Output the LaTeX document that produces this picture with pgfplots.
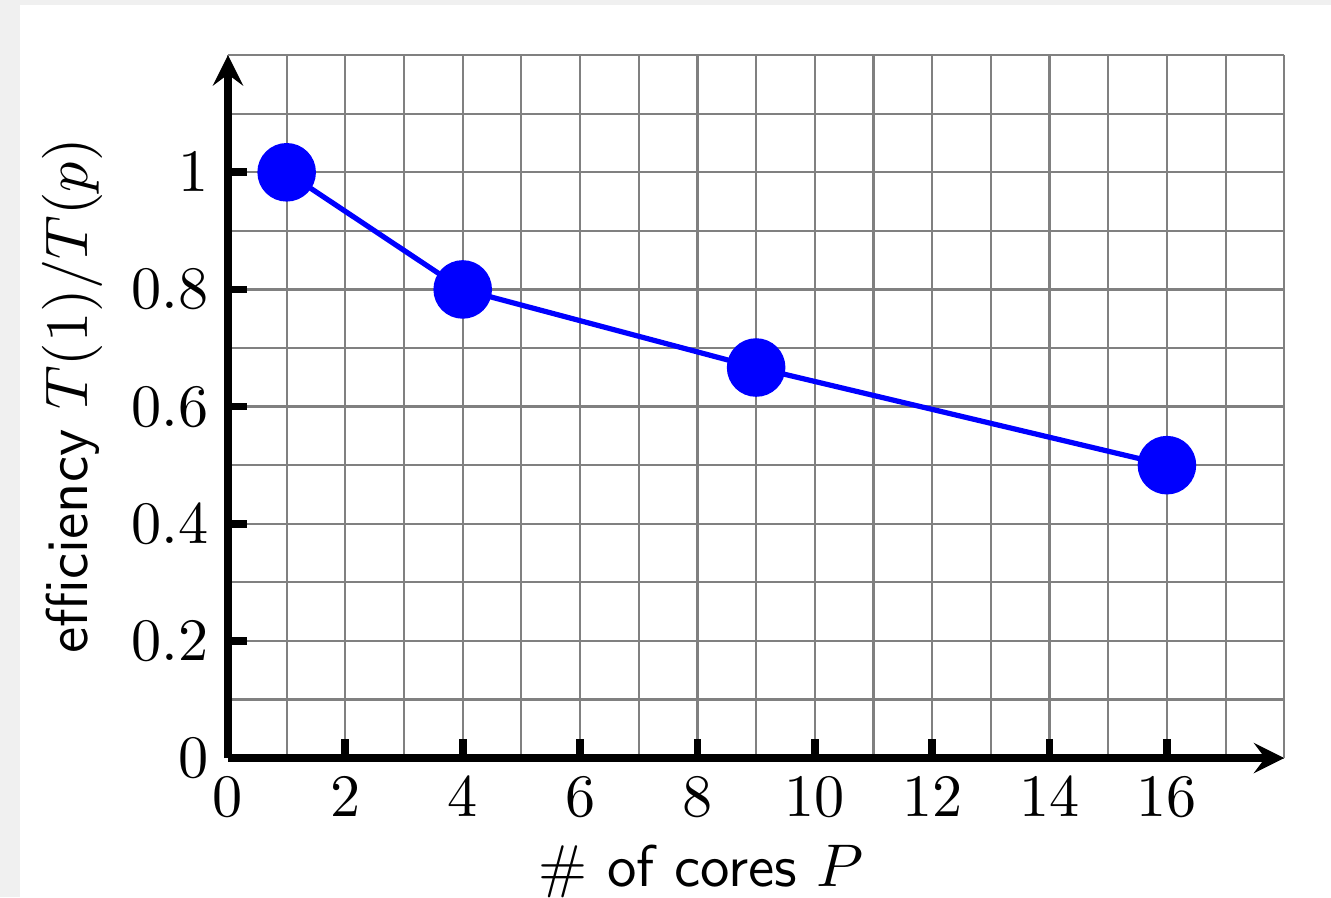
\documentclass[border=0pt]{standalone}
\usepackage{pgfplots}
\pgfplotsset{compat=1.18}
\begin{document}
\begin{tikzpicture}
\fill[gray!12] (0,0) rectangle (242pt,163.1pt);
\fill[white] (3.64pt,0) rectangle (242pt,162.2pt);
\begin{axis}[
  at={(41.45pt,25.27pt)}, anchor=origin,
  x=10.67pt, y=106.5pt,
  xmin=0, xmax=18, ymin=0, ymax=1.2,
  axis lines=left,
  axis line style={line width=1.4pt, black},
  xtick={0,2,...,16},
  ytick={0,0.2,...,1},
  minor xtick={1,3,...,17},
  minor ytick={0.1,0.3,...,1.1},
  extra x ticks={18}, extra x tick labels={},
  extra y ticks={1.2}, extra y tick labels={},
  extra tick style={major tick length=0pt},
  grid=both,
  major grid style={gray, line width=0.4pt},
  minor grid style={gray, line width=0.4pt},
  tick align=inside,
  major tick length=3.4pt,
  minor tick length=0pt,
  tick style={line width=1.4pt, black},
  ticklabel style={font=\fontsize{10.95pt}{13pt}\selectfont},
  yticklabel style={/pgf/number format/fixed, /pgf/number format/precision=1},
  xlabel={\sffamily \# of cores $P$},
  ylabel={\sffamily efficiency $T(1)/T(p)$},
  label style={font=\fontsize{10.7pt}{12.8pt}\selectfont},
  xlabel style={at={(ticklabel cs:0.448)}, anchor=north, yshift=1.6pt},
  ylabel style={at={(ticklabel cs:0.515)}, anchor=south, yshift=-1.6pt},
  clip=false,
]
\addplot[blue, line width=0.95pt, mark=*, mark size=4.85pt, mark options={fill=blue, draw=blue}]
  coordinates {(1,1) (4,0.8) (9,0.6667) (16,0.5)};
\end{axis}
\pgfresetboundingbox
\useasboundingbox (0,0) rectangle (242pt,163.1pt);
\end{tikzpicture}
\end{document}
